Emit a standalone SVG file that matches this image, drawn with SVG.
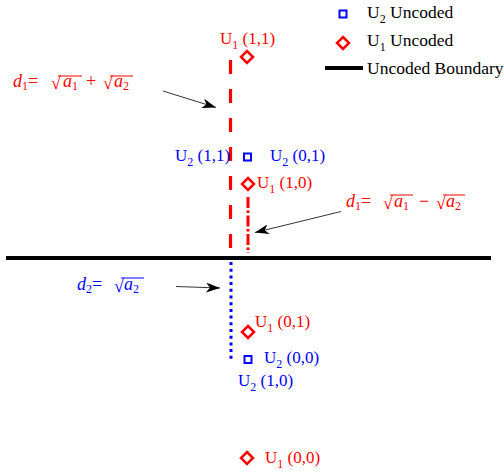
<svg xmlns="http://www.w3.org/2000/svg" width="504" height="475" viewBox="0 0 504 475">
<style>
text{font-family:"Liberation Serif","Times New Roman",serif;}
.lbl{font-size:17px;}
.leg{font-size:17.5px;fill:#000;}
.r{fill:#ff0000;}
.b{fill:#0000ff;}
.sub{font-size:12px;}
.math{font-size:18px;}
.it{font-style:italic;}
.dia{fill:none;stroke:#ff0000;stroke-width:2.5;}
.sq{fill:none;stroke:#0000ff;stroke-width:2;}
.arr{stroke:#000;stroke-width:0.8;fill:none;}
</style>
<defs>
<marker id="stealth" markerWidth="16" markerHeight="10" refX="14" refY="5" orient="auto" markerUnits="userSpaceOnUse">
<path d="M0,0 L14,5 L0,10 L4,5 z" fill="#000"/>
</marker>
<path id="diamond" d="M0,-6 L6,0 L0,6 L-6,0 z"/>
</defs>

<g id="legend">
<rect class="sq" x="339.5" y="10.5" width="7" height="7"/>
<text class="leg" x="367" y="18">U<tspan class="sub" dy="5">2</tspan><tspan dy="-5"> Uncoded</tspan></text>
<use href="#diamond" class="dia" x="343" y="43"/>
<text class="leg" x="367" y="46">U<tspan class="sub" dy="5">1</tspan><tspan dy="-5"> Uncoded</tspan></text>
<line x1="325" y1="68" x2="363" y2="68" stroke="#000" stroke-width="4"/>
<text class="leg" x="367" y="74">Uncoded Boundary</text>
</g>

<g id="connectors">
<line id="boundary" x1="6" y1="258" x2="491" y2="258" stroke="#000" stroke-width="4"/>
<line id="d1plus" x1="230.5" y1="60" x2="230.5" y2="252" stroke="#ff0000" stroke-width="3.2" stroke-dasharray="14 15"/>
<line id="d1minus" x1="248" y1="197" x2="248" y2="253" stroke="#ff0000" stroke-width="3" stroke-dasharray="11 2.5 2.5 2.5"/>
<line id="d2" x1="231" y1="262" x2="231" y2="362" stroke="#0000ff" stroke-width="3" stroke-dasharray="3 3.7"/>
<line class="arr" x1="163" y1="91" x2="216" y2="107.5" marker-end="url(#stealth)"/>
<line class="arr" x1="341" y1="211.5" x2="255" y2="232.5" marker-end="url(#stealth)"/>
<line class="arr" x1="176" y1="286.5" x2="220" y2="288" marker-end="url(#stealth)"/>
</g>

<g id="formula-d1plus">
<text class="math r" x="13" y="87"><tspan class="it">d</tspan><tspan class="sub" dy="3">1</tspan><tspan dy="-3">=</tspan></text>
<text class="math r" x="51" y="89">√</text>
<line x1="58" y1="76" x2="82" y2="76" stroke="#ff0000" stroke-width="1"/>
<text class="math r" x="63" y="87"><tspan class="it">a</tspan><tspan class="sub" dy="3">1</tspan></text>
<text class="math r" x="86" y="87">+</text>
<text class="math r" x="103" y="89">√</text>
<line x1="110" y1="76" x2="133" y2="76" stroke="#ff0000" stroke-width="1"/>
<text class="math r" x="114" y="87"><tspan class="it">a</tspan><tspan class="sub" dy="3">2</tspan></text>
</g>

<g id="formula-d1minus">
<text class="math r" x="346" y="207"><tspan class="it">d</tspan><tspan class="sub" dy="3">1</tspan><tspan dy="-3">=</tspan></text>
<text class="math r" x="383" y="209">√</text>
<line x1="390" y1="195" x2="413" y2="195" stroke="#ff0000" stroke-width="1"/>
<text class="math r" x="394" y="207"><tspan class="it">a</tspan><tspan class="sub" dy="3">1</tspan></text>
<text class="math r" x="419" y="207">−</text>
<text class="math r" x="436" y="209">√</text>
<line x1="443" y1="195" x2="465" y2="195" stroke="#ff0000" stroke-width="1"/>
<text class="math r" x="446" y="207"><tspan class="it">a</tspan><tspan class="sub" dy="3">2</tspan></text>
</g>

<g id="formula-d2">
<text class="math b" x="77" y="290"><tspan class="it">d</tspan><tspan class="sub" dy="3">2</tspan><tspan dy="-3">=</tspan></text>
<text class="math b" x="114" y="292">√</text>
<line x1="121" y1="278" x2="144" y2="278" stroke="#0000ff" stroke-width="1"/>
<text class="math b" x="124" y="290"><tspan class="it">a</tspan><tspan class="sub" dy="3">2</tspan></text>
</g>

<g id="U1-11">
<use href="#diamond" class="dia" x="247" y="57"/>
<text class="lbl r" x="220" y="44">U<tspan class="sub" dy="5">1</tspan><tspan dy="-5"> (1,1)</tspan></text>
</g>
<g id="U2-11">
<text class="lbl b" x="175" y="161">U<tspan class="sub" dy="5">2</tspan><tspan dy="-5"> (1,1)</tspan></text>
</g>
<g id="U2-01">
<rect class="sq" x="244" y="153.5" width="7" height="7"/>
<text class="lbl b" x="270" y="161">U<tspan class="sub" dy="5">2</tspan><tspan dy="-5"> (0,1)</tspan></text>
</g>
<g id="U1-10">
<use href="#diamond" class="dia" x="248" y="184"/>
<text class="lbl r" x="257" y="188">U<tspan class="sub" dy="5">1</tspan><tspan dy="-5"> (1,0)</tspan></text>
</g>
<g id="U1-01">
<use href="#diamond" class="dia" x="248" y="332"/>
<text class="lbl r" x="255" y="327">U<tspan class="sub" dy="5">1</tspan><tspan dy="-5"> (0,1)</tspan></text>
</g>
<g id="U2-00">
<rect class="sq" x="244.5" y="356" width="7" height="7"/>
<text class="lbl b" x="264" y="363">U<tspan class="sub" dy="5">2</tspan><tspan dy="-5"> (0,0)</tspan></text>
</g>
<g id="U2-10">
<text class="lbl b" x="238" y="386">U<tspan class="sub" dy="5">2</tspan><tspan dy="-5"> (1,0)</tspan></text>
</g>
<g id="U1-00">
<use href="#diamond" class="dia" x="247" y="458"/>
<text class="lbl r" x="265" y="463">U<tspan class="sub" dy="5">1</tspan><tspan dy="-5"> (0,0)</tspan></text>
</g>
</svg>
